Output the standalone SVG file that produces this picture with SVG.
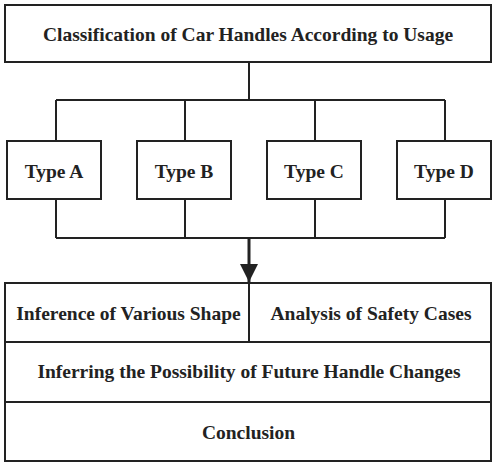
<svg xmlns="http://www.w3.org/2000/svg" width="496" height="467" viewBox="0 0 496 467">
<style>
.box{fill:#fff;stroke:#222;stroke-width:2}
.ln{fill:none;stroke:#222;stroke-width:2}
text{font-family:"Liberation Serif","DejaVu Serif",serif;font-weight:bold;font-size:19.5px;fill:#222;text-anchor:middle}
</style>
<defs>
<marker id="arr" viewBox="0 0 10 10" refX="10" refY="5" markerWidth="6" markerHeight="6" markerUnits="strokeWidth" orient="auto">
<path d="M0,0 L10,5 L0,10 z" fill="#222"/>
</marker>
</defs>
<rect width="496" height="467" fill="#fff"/>
<g id="connectors">
<path class="ln" d="M249,62 V100 M56,100 H445 M56,100 V141 M185,100 V141 M315,100 V141 M445,100 V141"/>
<path class="ln" d="M56,199 V238 M185,199 V238 M315,199 V238 M445,199 V238 M56,238 H445"/>
<line x1="249" y1="238" x2="249" y2="282" stroke="#222" stroke-width="3" marker-end="url(#arr)"/>
</g>
<g id="title"><rect class="box" x="5" y="5" width="486" height="57"/><text x="248" y="41">Classification of Car Handles According to Usage</text></g>
<g id="typeA"><rect class="box" x="7" y="141" width="94" height="58"/><text x="54" y="178">Type A</text></g>
<g id="typeB"><rect class="box" x="137" y="141" width="94" height="58"/><text x="184" y="178">Type B</text></g>
<g id="typeC"><rect class="box" x="267" y="141" width="94" height="58"/><text x="314" y="178">Type C</text></g>
<g id="typeD"><rect class="box" x="397" y="141" width="94" height="58"/><text x="444" y="178">Type D</text></g>
<g id="inference"><rect class="box" x="5" y="283" width="244" height="59"/><text x="128.5" y="320">Inference of Various Shape</text></g>
<g id="safety"><rect class="box" x="249" y="283" width="242" height="59"/><text x="371" y="320">Analysis of Safety Cases</text></g>
<g id="future"><rect class="box" x="5" y="342" width="486" height="60"/><text x="249" y="378">Inferring the Possibility of Future Handle Changes</text></g>
<g id="conclusion"><rect class="box" x="5" y="402" width="486" height="59"/><text x="248.5" y="439">Conclusion</text></g>
</svg>
